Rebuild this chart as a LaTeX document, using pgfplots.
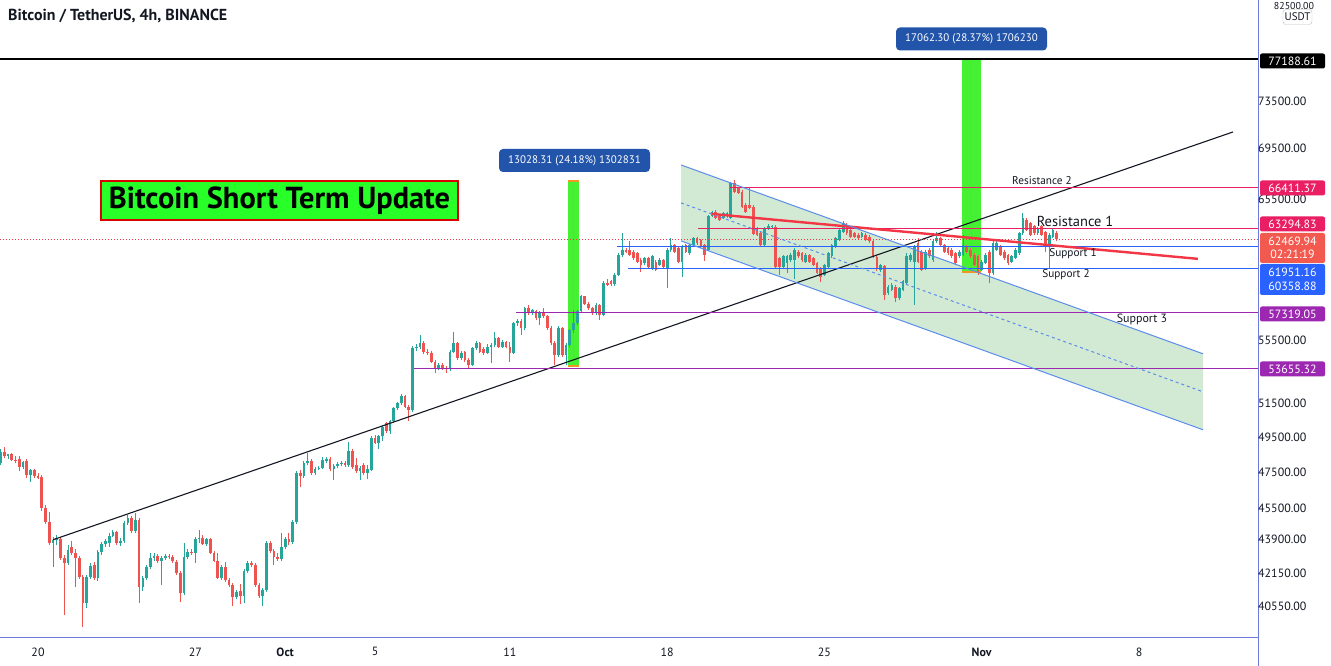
\documentclass[border=0pt]{standalone}
\usepackage{fontspec}
\setmainfont{PT Sans}
\usepackage{pgfplots}
\usepackage{pgfplotstable}
\pgfplotsset{compat=1.18}

\definecolor{candleup}{RGB}{38,166,154}
\definecolor{candledn}{RGB}{239,83,80}
\definecolor{txt}{RGB}{19,23,34}
\definecolor{frame}{RGB}{108,122,220}
\definecolor{resist}{RGB}{233,30,99}
\definecolor{supblue}{RGB}{41,98,255}
\definecolor{suppurple}{RGB}{156,39,176}
\definecolor{trendred}{RGB}{242,54,69}
\definecolor{chanline}{RGB}{91,140,235}
\definecolor{chanfill}{RGB}{76,175,80}
\definecolor{barg}{RGB}{70,240,50}
\definecolor{barorange}{RGB}{240,150,40}
\definecolor{tagblue}{RGB}{34,85,170}
\definecolor{titlegreen}{RGB}{40,255,40}
\definecolor{nowred}{RGB}{242,90,80}

\newcommand{\axfont}{\fontsize{12}{13.5}\selectfont}
\newcommand{\titlefont}{\fontsize{16}{18}\selectfont\bfseries}
\newcommand{\bigfont}{\fontsize{30.5}{34}\selectfont\bfseries}
\newcommand{\tagfont}{\fontsize{11}{13}\selectfont}
\newcommand{\lblfont}{\fontsize{11.3}{13}\selectfont}

% 4h candles, k = candle index (k=10 is Sep 20 00:00)
\pgfplotstableread{
k O H L C
0 48030 48800 47900 48650
1 48650 48900 48300 48400
2 48400 48550 48250 48500
3 48500 48600 48100 48200
4 48200 48400 48000 48100
5 48250 48400 47550 47800
6 47800 48150 47700 48050
7 48150 48250 47200 47350
8 47350 47700 46950 47600
9 47600 47700 47150 47300
10 47300 47450 47100 47200
11 47240 47350 45400 45550
12 45550 45700 44700 44800
13 44800 45300 43600 43710
14 43710 44000 42500 43870
15 43870 44100 43600 43950
16 43920 44000 42850 42950
17 42950 43100 40170 42700
18 42700 43600 42600 43360
19 43500 43800 43100 43200
20 43200 43400 41500 42950
21 42950 43050 41900 42000
22 42000 42100 39600 40750
23 40750 42100 40500 42000
24 42000 42700 41900 42550
25 42600 42750 41850 41950
26 41950 43350 41800 43250
27 43250 43750 43100 43650
28 43650 43900 43500 43800
29 43700 44200 43500 44090
30 44090 44400 44000 44250
31 44250 44350 43600 43700
32 43700 43950 43550 43800
33 43800 44850 43700 44760
34 44760 45180 44650 45000
35 45000 45100 44200 44300
36 44300 45250 44200 44900
37 44900 45000 40740 41500
38 41500 42050 41300 41950
39 41950 42600 41850 42500
40 42500 43200 42400 42950
41 42950 43200 42800 43050
42 43050 43150 42700 42800
43 42800 43050 41610 42950
44 42950 43150 42850 43050
45 43050 43150 42900 43000
46 43000 43100 42700 42800
47 42750 42850 42100 42200
48 42200 42300 40790 41200
49 41200 43700 41100 43000
50 43000 43400 42900 43250
51 43250 43400 43100 43200
52 43200 44000 42700 43900
53 43900 44390 43700 43950
54 43950 44100 43600 43650
55 43650 43950 43550 43900
56 43900 43950 43150 43200
57 43200 43300 42750 42800
58 42800 43200 41900 41950
59 41950 42600 41850 42500
60 42500 42750 41750 41850
61 41850 41950 41500 41600
62 41600 41700 40560 41000
63 41000 41350 40900 41250
64 41300 41650 40700 41050
65 41050 42400 40750 42300
66 42300 42800 42200 42700
67 42700 42800 42500 42600
68 42600 42700 41500 41600
69 41600 41700 40950 41050
70 41050 41450 40600 41350
71 41350 43800 41250 43700
72 43700 43800 43200 43300
73 43300 43400 42600 43000
74 43000 43200 42800 42900
75 42900 44200 42800 43500
76 43500 44000 43400 43900
77 43900 44200 43600 43750
78 43750 44900 43650 44820
79 44820 47550 44700 47450
80 47450 47600 46690 47300
81 47300 48100 47200 48000
82 48000 48600 47900 48150
83 48150 48250 47350 47450
84 47450 47800 47350 47700
85 47700 47850 47600 47750
86 47750 48350 47650 48200
87 48100 48350 48000 48250
88 48250 48350 47550 47650
89 47650 47950 47075 47850
90 47850 48050 47750 47950
91 47950 48100 47850 48000
92 48000 48100 47800 47900
93 47900 49240 47800 48700
94 48700 48800 47700 47800
95 47900 48300 47450 47550
96 47550 47850 47075 47750
97 47900 48000 47350 47450
98 47450 47900 47100 47700
99 47630 49550 47550 49440
100 49440 49600 49100 49150
101 49150 49650 48800 49535
102 49535 50150 49300 50100
103 50300 50400 49750 49850
104 49850 50500 49700 50420
105 50420 51300 50300 51210
106 51210 51600 51100 51520
107 51520 52100 51400 51920
108 51920 52000 51200 51300
109 51300 51400 50420 51110
110 51110 55100 51000 54950
111 54950 55200 54800 55060
112 55060 55820 54900 55280
113 55280 55400 54600 54740
114 54740 54900 54500 54640
115 54640 54750 54000 54100
116 54100 54200 53370 53680
117 53680 54000 53550 53880
118 53880 54000 53550 53680
119 53680 53800 53400 53600
120 53600 54850 53500 54740
121 54740 56040 54650 55280
122 55280 55350 54200 54320
123 54320 54750 54200 54640
124 54740 54800 54100 54200
125 54200 54300 53670 53890
126 53890 55050 53800 54960
127 54960 55400 54850 55280
128 55280 55350 54650 54740
129 54900 55000 54500 54640
130 54640 55200 54550 55060
131 55060 55300 54000 55170
132 55170 56040 55000 55600
133 55600 55700 54950 55060
134 55060 55500 54950 55380
135 55380 55450 54950 55060
136 55060 55350 54100 54640
137 54640 56700 54550 56600
138 56600 56900 56400 56710
139 56710 56900 55820 56260
140 56260 57700 56150 57600
141 57600 57830 57150 57290
142 57290 57550 57150 57450
143 57380 57500 56800 56930
144 56930 57400 56500 57270
145 57270 57600 56950 57050
146 57050 57150 56150 56270
147 56270 56400 55150 55280
148 55280 55400 53890 54530
149 54530 56400 54400 56270
150 56270 56350 54400 54530
151 54530 55300 53850 55170
152 55170 56200 55060 56150
153 56150 57490 55930 56600
154 56600 57450 56500 57380
155 57380 58520 57300 58400
156 58400 58450 57800 57900
157 57900 58000 57500 57600
158 57600 57700 57150 57270
159 57270 57950 57150 57830
160 57830 57900 56817 57150
161 57150 59450 57050 59320
162 59320 59600 59100 59200
163 59450 59550 59150 59250
164 59250 60000 59150 59900
165 59900 61450 59800 61330
166 61330 62910 61200 61690
167 61690 61800 61450 61570
168 61690 62300 61250 61330
169 61570 61650 60950 61090
170 61450 61550 60750 60850
171 60970 61100 60140 60610
172 60730 61200 60600 61090
173 61090 61200 60350 60490
174 60370 61350 60250 61210
175 60850 60950 60150 60260
176 60610 61100 60500 60970
177 60970 61050 60350 60490
178 60370 61800 58970 61690
179 61690 62540 61550 62050
180 62050 62150 61450 61570
181 61810 61900 60750 60850
182 60850 62050 59780 61930
183 62050 62150 61450 61570
184 61450 62150 61350 62050
185 62050 62650 61950 62540
186 62540 62650 62050 62170
187 62420 62500 61800 61930
188 62050 62150 60900 61330
189 61700 64300 61600 64190
190 64190 64600 64100 64500
191 64500 64650 63950 64030
192 64200 64300 63800 63900
193 64030 64500 63950 64410
194 64160 64500 64050 64410
195 64030 66800 63950 66720
196 66720 66980 65950 66070
197 66330 66450 65850 65940
198 66070 66150 64800 64910
199 65040 65150 64450 64540
200 65040 66460 64700 64780
201 64910 65000 62750 62870
202 63280 63400 62700 62780
203 62910 63000 61950 62050
204 62050 63400 61950 63280
205 63280 63600 63150 63410
206 63350 63550 63250 63450
207 63400 63500 60400 60490
208 61090 61200 59900 60490
209 60490 61300 60400 61210
210 60730 61300 60010 61210
211 60970 61450 60850 61330
212 60970 61800 59640 61690
213 61570 61700 61100 61210
214 61450 61550 60850 60970
215 60850 61450 60750 61330
216 61330 61400 60750 60850
217 61090 61200 60500 60610
218 60730 60800 59950 60030
219 60370 60450 59400 59780
220 59900 60700 59800 60610
221 60490 61550 60400 61450
222 61210 62150 61100 62050
223 61930 62650 61850 62540
224 62420 63250 62300 63160
225 63030 63800 62950 63650
226 63530 63650 62800 62910
227 63160 63250 62550 62660
228 62910 63000 62550 62660
229 62790 62900 62450 62540
230 62660 63000 62550 62910
231 62790 62900 62300 62420
232 62660 62750 62200 62300
233 62300 62400 61100 61200
234 61200 61300 60200 60370
235 60260 60700 60100 60610
236 60500 60600 58170 58510
237 58630 59200 58500 59080
238 58860 59300 58750 59200
239 59080 59200 58050 58280
240 58280 59050 58150 58970
241 58860 59550 58750 59440
242 59320 61450 59200 61210
243 60970 61450 60850 61330
244 60850 62050 57830 61930
245 62170 62540 60750 60850
246 61570 61650 60150 60260
247 60370 61650 60250 61570
248 61690 61800 61100 61210
249 60970 62400 60850 62300
250 62300 63030 62200 62540
251 62540 62650 61950 62050
252 62050 62150 61450 61570
253 61810 61900 61350 61450
254 61690 61800 61100 61210
255 61450 61550 60600 60730
256 61210 61650 61100 61570
257 61330 62790 61250 62050
258 61930 62050 61450 61570
259 61690 61800 61100 61210
260 61330 61450 60500 60610
261 61210 61300 59900 60140
262 60260 60950 60150 60850
263 60730 61450 60650 61330
264 61570 61650 59320 60030
265 60030 62300 59900 62170
266 61690 62300 61600 62170
267 61930 62050 61250 61330
268 61570 61650 60950 61090
269 61330 61400 60600 60730
270 60850 61300 60750 61210
271 61090 61800 61000 61690
272 61450 63000 61350 62910
273 62910 64410 62800 64030
274 63900 64050 63050 63160
275 63650 63750 62700 62790
276 63410 63500 62800 62910
277 62910 63400 62800 63280
278 63410 63500 62700 62790
279 63030 63100 61570 61930
280 62050 62900 60370 62790
281 62660 63250 62550 63160
282 62910 63050 62350 62470
}\candles

\begin{document}
\begin{tikzpicture}
\fill[white] (0bp,-28bp) rectangle (1331bp,638bp);
\begin{axis}[
  at={(0bp,0bp)}, anchor=south west,
  scale only axis, width=1258bp, height=638bp,
  xmin=-0.147, xmax=335.77,
  ymode=log, ymin=39096, ymax=82765,
  axis x line*=bottom, axis y line*=right,
  axis line style={draw=frame, line width=0.8bp},
  major tick length=0pt,
  xtick={10,52,76,100,136,178,220,262,304},
  xticklabels={20,27,\textbf{Oct},5,11,18,25,\textbf{Nov},8},
  xticklabel style={anchor=center, inner sep=0pt, yshift=-14bp, font=\axfont, text=txt},
  ytick={40550,42150,43900,45500,47500,49500,51500,55500,65500,69500,73500},
  yticklabels={40550.00,42150.00,43900.00,45500.00,47500.00,49500.00,51500.00,55500.00,65500.00,69500.00,73500.00},
  yticklabel style={anchor=west, inner sep=0pt, xshift=0bp, font=\axfont, text=txt},
  clip=false,
  candle/.style={draw=none, mark=none, forget plot,
    /pgfplots/error bars/y dir=plus,
    /pgfplots/error bars/y explicit,
    /pgfplots/error bars/error mark=none,
    /pgfplots/error bars/error bar style={#1}},
]
% parallel channel fill
\addplot[fill=chanfill, fill opacity=0.25, draw=none, forget plot]
  coordinates {(181.7,68173) (321.1,54591) (321.1,49926) (181.7,62347)} -- cycle;
% price range bars
\addplot[fill=barg, draw=none, forget plot]
  coordinates {(151.4,53826) (154.5,53826) (154.5,66903) (151.4,66903)} -- cycle;
\addplot[barorange, line width=0.8bp, forget plot] coordinates {(152.9,53826) (152.9,66903)};
\addplot[barorange, line width=1.6bp, forget plot] coordinates {(151.4,66903) (154.5,66903)};
\addplot[barorange, line width=1.6bp, forget plot] coordinates {(151.4,53826) (154.5,53826)};
\addplot[fill=barg, draw=none, forget plot]
  coordinates {(256.8,60116) (261.8,60116) (261.8,77300) (256.8,77300)} -- cycle;
\addplot[barorange, line width=0.8bp, forget plot] coordinates {(259.3,60116) (259.3,77300)};
\addplot[barorange, line width=1.6bp, forget plot] coordinates {(256.8,60116) (261.8,60116)};

% wicks
\addplot[candle={line width=0.9bp, draw=candleup}]
  table[x expr={\thisrow{C}<\thisrow{O} ? nan : \thisrow{k}}, y=L,
        y error plus expr={\thisrow{H}-\thisrow{L}}] {\candles};
\addplot[candle={line width=0.9bp, draw=candledn}]
  table[x expr={\thisrow{C}<\thisrow{O} ? \thisrow{k} : nan}, y=L,
        y error plus expr={\thisrow{H}-\thisrow{L}}] {\candles};
% bodies
\addplot[candle={line width=2.7bp, draw=candleup}]
  table[x expr={\thisrow{C}<\thisrow{O} ? nan : \thisrow{k}}, y=O,
        y error plus expr={\thisrow{C}-\thisrow{O}}] {\candles};
\addplot[candle={line width=2.7bp, draw=candledn}]
  table[x expr={\thisrow{C}<\thisrow{O} ? \thisrow{k} : nan}, y=C,
        y error plus expr={\thisrow{O}-\thisrow{C}}] {\candles};

% levels and trend lines
\addplot[black, line width=2bp] coordinates {(-0.147,77188.61) (335.77,77188.61)};
\addplot[txt, line width=1.1bp] coordinates {(14.0,43870) (329.1,70870)};
\addplot[resist, line width=1bp] coordinates {(194.8,66411.37) (335.77,66411.37)};
\addplot[resist, line width=1bp] coordinates {(186.2,63294.83) (335.77,63294.83)};
\addplot[trendred, line width=1bp, dash pattern=on 1bp off 2bp] coordinates {(-0.147,62469.94) (335.77,62469.94)};
\addplot[supblue, line width=1bp] coordinates {(164.7,61951.16) (335.77,61951.16)};
\addplot[supblue, line width=1bp] coordinates {(167.5,60358.88) (335.77,60358.88)};
\addplot[suppurple, line width=1bp] coordinates {(137.6,57319.05) (335.77,57319.05)};
\addplot[suppurple, line width=1bp] coordinates {(110.5,53655.32) (335.77,53655.32)};
\addplot[trendred, line width=2.4bp] coordinates {(190,64355) (319.7,61042)};
\addplot[chanline, line width=1bp] coordinates {(181.7,68173) (321.1,54591)};
\addplot[chanline, line width=1bp] coordinates {(181.7,62347) (321.1,49926)};
\addplot[chanline, dashed, line width=1bp] coordinates {(181.7,65195) (321.1,52206)};
\end{axis}

\draw[frame, line width=0.8bp] (1258bp,0bp) -- (1258bp,-28bp);

% texts on the chart
\node[anchor=west, inner sep=0pt, font=\titlefont, text=txt] at (8bp,622bp) {Bitcoin / TetherUS, 4h, BINANCE};
\node[fill=titlegreen, draw=red!85!black, line width=2bp, minimum width=357bp, minimum height=39bp,
      inner sep=0pt, font=\bigfont, text=black] at (279.5bp,437.5bp) {Bitcoin Short Term Update};
\node[fill=tagblue, rounded corners=4bp, minimum width=151bp, minimum height=23bp, inner sep=0pt,
      text=white, font=\tagfont] at (574.5bp,477.5bp) {13028.31 (24.18\%) 1302831};
\node[fill=tagblue, rounded corners=4bp, minimum width=151bp, minimum height=23bp, inner sep=0pt,
      text=white, font=\tagfont] at (971.5bp,599bp) {17062.30 (28.37\%) 1706230};
\node[font=\lblfont, text=txt] at (1042bp,457bp) {Resistance 2};
\node[font=\fontsize{14.5}{16}\selectfont, text=txt] at (1075bp,417bp) {Resistance 1};
\node[font=\lblfont, text=txt] at (1073bp,384bp) {Support 1};
\node[font=\lblfont, text=txt] at (1066bp,363bp) {Support 2};
\node[font=\fontsize{12}{14}\selectfont, text=txt] at (1142bp,319bp) {Support 3};

% price scale tags
\tikzset{tag/.style={rounded corners=2bp, minimum width=65bp, inner sep=0pt, text=white, font=\axfont, align=center}}
\node[font=\fontsize{10}{11}\selectfont, text=txt] at (1294bp,632bp) {82500.00};
\node[draw=black!25, fill=white, rounded corners=3bp, minimum width=29bp, minimum height=15bp, inner sep=0pt,
      font=\tagfont, text=txt] at (1297.5bp,621bp) {USDT};
\node[tag, fill=black, minimum height=15bp] at (1292.5bp,577bp) {77188.61};
\node[tag, fill=resist, minimum height=15bp] at (1292.5bp,450bp) {66411.37};
\node[tag, fill=resist, minimum height=15bp] at (1292.5bp,414bp) {63294.83};
\node[tag, fill=nowred, minimum height=30bp] at (1292.5bp,390bp) {62469.94\\02:21:19};
\node[tag, fill=supblue, minimum height=31bp] at (1292.5bp,358.5bp) {61951.16\\60358.88};
\node[tag, fill=suppurple, minimum height=15bp] at (1292.5bp,324bp) {57319.05};
\node[tag, fill=suppurple, minimum height=15bp] at (1292.5bp,269bp) {53655.32};

\pgfresetboundingbox
\path[use as bounding box] (0bp,-28bp) rectangle (1331bp,638bp);
\end{tikzpicture}
\end{document}
